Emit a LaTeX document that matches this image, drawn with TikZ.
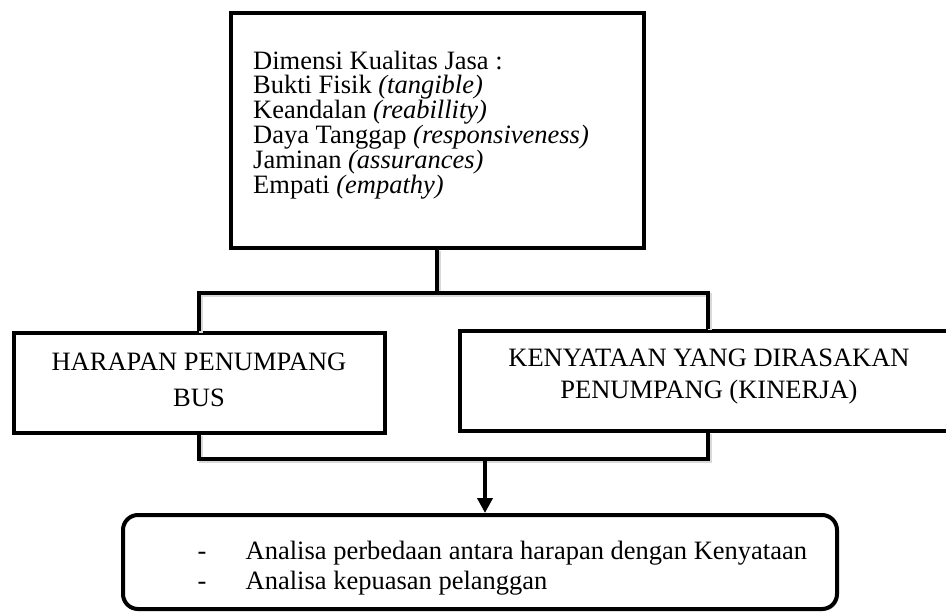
\documentclass[tikz,border=0pt]{standalone}
\usepackage{fontspec}
\setmainfont{Liberation Serif}
\usetikzlibrary{arrows.meta,shadows}
\begin{document}
\begin{tikzpicture}[x=1pt,y=-1pt,
  box/.style={draw, line width=4pt, rectangle, fill=white, inner sep=0pt,
    drop shadow={shadow xshift=1.8pt, shadow yshift=-1.8pt, fill=black, opacity=0.15}},
  txt/.style={inner sep=0pt, font=\fontsize{26.5}{30}\selectfont},
  conn/.style={line width=4pt, line join=miter,
    preaction={draw=black!15, line width=4pt, transform canvas={xshift=1.8pt, yshift=-1.8pt}}}]
\useasboundingbox (0,0) rectangle (946,613);
\clip (0,0) rectangle (946,613);

% bracket corner points
\coordinate (tl) at (199,293);
\coordinate (tr) at (708,293);
\coordinate (bl) at (199,459);
\coordinate (br) at (708,459);
\coordinate (m) at (485,459);

% boxes
\node[box, minimum width=413pt, minimum height=235pt] (dim) at (437,130) {};
\node[box, minimum width=370.5pt, minimum height=99.5pt] (harapan) at (199.25,382.75) {};
\node[box, minimum width=498pt, minimum height=100pt] (kenyataan) at (709,380.5) {};
\node[box, rounded corners=15pt, minimum width=714pt, minimum height=94pt] (hasil) at (480,562) {};

% connectors
\draw[conn] (dim.south) -- (dim.south |- tl);
\draw[conn] (tl |- harapan.north) -- (tl) -- (tr) -- (tr |- kenyataan.north);
\draw[conn] (bl |- harapan.south) -- (bl) -- (br) -- (br |- kenyataan.south);
\draw[line width=4pt, -{Triangle[length=15pt, width=15pt]}] (m) -- (m |- hasil.north);

% texts of the top box
\node[txt, anchor=base west] (d0) at (253,69) {Dimensi Kualitas Jasa :};
\node[txt, anchor=base west] (d1) at (253,93.8) {Bukti Fisik \textit{(tangible)}};
\node[txt, anchor=base west] (d2) at (253,118.6) {Keandalan \textit{(reabillity)}};
\node[txt, anchor=base west] (d3) at (253,143.4) {Daya Tanggap \textit{(responsiveness)}};
\node[txt, anchor=base west] (d4) at (253,168.2) {Jaminan \textit{(assurances)}};
\node[txt, anchor=base west] (d5) at (253,193) {Empati \textit{(empathy)}};

% middle boxes
\node[txt, anchor=base] (h1) at (199,370) {HARAPAN PENUMPANG};
\node[txt, anchor=base] (h2) at (199,406) {BUS};
\node[txt, anchor=base] (k1) at (709,366) {KENYATAAN YANG DIRASAKAN};
\node[txt, anchor=base] (k2) at (709,398) {PENUMPANG (KINERJA)};

% bottom box
\node[txt, anchor=base] (b1d) at (202,559) {-};
\node[txt, anchor=base west] (b1) at (245.5,559) {Analisa perbedaan antara harapan dengan Kenyataan};
\node[txt, anchor=base] (b2d) at (202,589) {-};
\node[txt, anchor=base west] (b2) at (245.5,589) {Analisa kepuasan pelanggan};
\end{tikzpicture}
\end{document}
